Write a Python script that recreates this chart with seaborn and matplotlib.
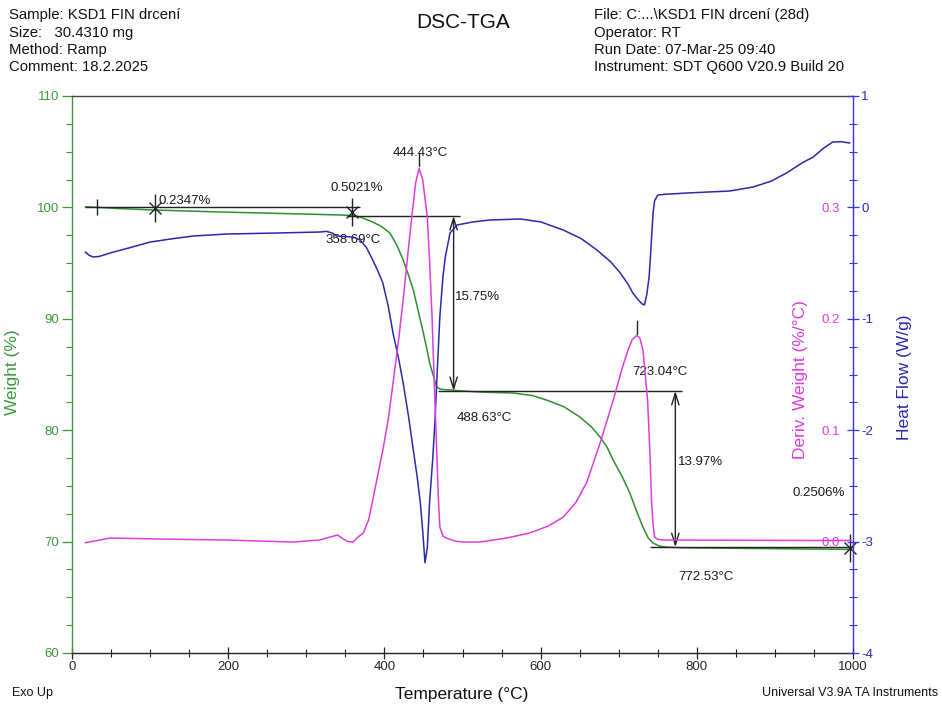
import numpy as np
import pandas as pd
import matplotlib
matplotlib.use('Agg')
import matplotlib.pyplot as plt
import seaborn as sns
from matplotlib.ticker import MultipleLocator, FixedLocator

sns.set_theme(style='white')
plt.rcParams['font.family'] = ['Liberation Sans', 'DejaVu Sans']
plt.rcParams['axes.unicode_minus'] = False

# ---------------- data ----------------
weight_temp = [17, 32, 60, 104, 150, 200, 241, 300, 343, 360, 369, 385, 396, 407, 416, 424, 431, 437,
               443, 449, 454, 458, 463, 467, 471, 477, 484, 500, 522, 545, 565, 590, 608, 630, 650,
               665, 676, 685, 693, 704, 714, 722, 731, 738, 744, 752, 762, 780, 850, 920, 998]
weight_pct = [100.05, 100.0, 99.9, 99.77, 99.67, 99.57, 99.5, 99.4, 99.32, 99.27, 99.14, 98.69, 98.3,
              97.70, 96.6, 95.28, 93.9, 92.59, 90.8, 89.0, 87.4, 86.03, 84.8, 83.88, 83.70, 83.64,
              83.61, 83.52, 83.43, 83.38, 83.34, 83.1, 82.7, 82.1, 81.2, 80.3, 79.4, 78.5, 77.3, 75.9,
              74.4, 72.9, 71.3, 70.3, 69.87, 69.6, 69.5, 69.45, 69.4, 69.35, 69.3]

hf_temp = [17, 22, 27, 35, 49, 75, 100, 130, 155, 198, 262, 317, 326, 333, 339, 350, 360, 369, 377, 385,
           391, 398, 405, 411, 418, 424, 431, 437, 442, 446, 449, 452, 455, 458, 462, 465, 468, 471, 475,
           478, 484, 493, 513, 535, 574, 600, 629, 652, 672, 690, 702, 712, 718, 725, 730, 733, 736, 739,
           741, 744, 746, 750, 760, 787, 842, 872, 895, 915, 935, 949, 962, 974, 985, 996]
hf_wg = [-0.40, -0.43, -0.445, -0.44, -0.409, -0.36, -0.311, -0.28, -0.257, -0.239, -0.230, -0.221,
         -0.215, -0.23, -0.257, -0.262, -0.266, -0.293, -0.36, -0.472, -0.56, -0.679, -0.89, -1.127,
         -1.35, -1.576, -1.88, -2.178, -2.42, -2.653, -2.9, -3.19, -3.05, -2.627, -2.25, -1.88, -1.42,
         -0.98, -0.62, -0.445, -0.23, -0.158, -0.131, -0.113, -0.104, -0.13, -0.203, -0.28, -0.382,
         -0.49, -0.589, -0.69, -0.768, -0.83, -0.867, -0.875, -0.78, -0.62, -0.40, -0.05, 0.06, 0.111,
         0.118, 0.129, 0.147, 0.183, 0.235, 0.309, 0.40, 0.452, 0.53, 0.587, 0.59, 0.578]

dw_temp = [17, 49, 113, 198, 283, 317, 330, 340, 347, 353, 360, 366, 373, 380, 385, 391, 398, 405, 411,
           418, 424, 430, 435, 440, 444.4, 449, 455, 458, 461, 464, 467, 469, 471, 475, 480, 490, 501,
           522, 555, 586, 610, 629, 645, 659, 676, 693, 705, 712, 717, 723, 727, 731, 734, 737, 740,
           742, 744, 746, 750, 757, 779, 850, 950, 998]
dw_pct = [-0.001, 0.0032, 0.0023, 0.0014, -0.0004, 0.0014, 0.004, 0.0059, 0.0025, 0.0, -0.0004, 0.004,
          0.0077, 0.02, 0.037, 0.058, 0.082, 0.11, 0.142, 0.18, 0.217, 0.258, 0.291, 0.322, 0.335,
          0.325, 0.291, 0.25, 0.202, 0.14, 0.082, 0.04, 0.013, 0.005, 0.003, 0.0005, -0.0004, -0.0004,
          0.003, 0.0077, 0.014, 0.022, 0.035, 0.053, 0.088, 0.127, 0.157, 0.172, 0.181, 0.185, 0.183,
          0.172, 0.15, 0.127, 0.08, 0.037, 0.015, 0.0041, 0.002, 0.0014, 0.0014, 0.0012, 0.001, 0.001]

# analysis annotations (temperature, weight)
step_temps = [488.63, 772.53]
step_tops = [99.23, 83.52]
step_bottoms = [83.52, 69.5]
peak_temps = [444.43, 723.04]
peak_derivs = [0.337, 0.186]
cross_temps = [106, 358.69, 996]
cross_weights = [99.95, 99.6, 69.45]

GREEN = '#2f8f2f'
GREEN_T = '#3c9a3c'
MAGENTA = '#dd3ddd'
BLUE = '#2a2aaa'
BLUE_AX = '#3535d0'

df_w = pd.DataFrame({'T': weight_temp, 'W': weight_pct})
df_h = pd.DataFrame({'T': hf_temp, 'H': hf_wg})
df_d = pd.DataFrame({'T': dw_temp, 'D': dw_pct})

fig = plt.figure(figsize=(9.42, 7.07), dpi=100)
W_PX, H_PX = 942, 707
ax = fig.add_axes([72 / W_PX, 1 - 653 / H_PX, (853 - 72) / W_PX, (653 - 96) / H_PX])
ax2 = ax.twinx()
ax3 = ax.twinx()

sns.lineplot(data=df_w, x='T', y='W', ax=ax, color=GREEN, lw=1.1, sort=False, estimator=None)
sns.lineplot(data=df_h, x='T', y='H', ax=ax2, color=BLUE, lw=1.1, sort=False, estimator=None)
sns.lineplot(data=df_d, x='T', y='D', ax=ax3, color=MAGENTA, lw=1.1, sort=False, estimator=None)

ax.set_xlim(0, 1000)
ax.set_ylim(60, 110)
ax2.set_ylim(-4, 1)
ax3.set_ylim(-0.1, 0.4)

# --- main axis styling
ax.set_xlabel('')
ax.set_ylabel('')
ax.xaxis.set_major_locator(MultipleLocator(200))
ax.xaxis.set_minor_locator(MultipleLocator(50))
ax.yaxis.set_major_locator(MultipleLocator(10))
ax.yaxis.set_minor_locator(MultipleLocator(2.5))
ax.tick_params(axis='x', which='major', direction='inout', length=8, width=0.9, color='#222222',
               labelsize=9.5, pad=2, bottom=True)
ax.tick_params(axis='x', which='minor', direction='inout', length=6, width=0.8, color='#222222', bottom=True)
ax.tick_params(axis='y', which='major', direction='out', length=7, width=0.9, color=GREEN_T,
               labelcolor=GREEN_T, labelsize=9.5, pad=2, left=True)
ax.tick_params(axis='y', which='minor', direction='out', length=4, width=0.8, color=GREEN_T, left=True)
ax.spines['left'].set_color(GREEN_T)
ax.spines['bottom'].set_color('#222222')
ax.spines['top'].set_color('#444444')
for a in (ax, ax2, ax3):
    for s in a.spines.values():
        s.set_linewidth(1.0)
ax.spines['right'].set_visible(False)

# --- heat flow axis
ax2.set_ylabel('')
ax2.yaxis.set_major_locator(MultipleLocator(1))
ax2.yaxis.set_minor_locator(MultipleLocator(0.25))
ax2.tick_params(axis='y', which='major', direction='inout', length=8, width=0.9, color=BLUE_AX,
                labelcolor=BLUE, labelsize=9.5, pad=2, right=True)
ax2.tick_params(axis='y', which='minor', direction='inout', length=6, width=0.8, color=BLUE_AX, right=True)
ax2.spines['right'].set_color(BLUE_AX)
for s in ['left', 'top', 'bottom']:
    ax2.spines[s].set_visible(False)

# --- deriv weight axis (labels inside, next to the heat-flow spine)
ax3.yaxis.set_major_locator(FixedLocator([0.0, 0.1, 0.2, 0.3]))
ax3.yaxis.set_major_formatter(matplotlib.ticker.FormatStrFormatter('%.1f'))
ax3.tick_params(axis='y', which='both', length=0, labelcolor=MAGENTA, labelsize=9.5, pad=-9.5,
                right=False, labelright=True)
plt.setp(ax3.get_yticklabels(), ha='right')
for s in ax3.spines.values():
    s.set_visible(False)
ax3.set_ylabel('')

# axis titles
fig.text(462 / W_PX, 1 - 694 / H_PX, 'Temperature (°C)', ha='center', va='center', fontsize=12.5,
         color='#111111')
fig.text(13 / W_PX, 1 - 372 / H_PX, 'Weight (%)', rotation=90, color=GREEN_T,
         fontsize=12.5, ha='center', va='center')
fig.text(800 / W_PX, 1 - 380 / H_PX, 'Deriv. Weight (%/°C)', rotation=90, color=MAGENTA,
         fontsize=12.5, ha='center', va='center')
fig.text(904 / W_PX, 1 - 377 / H_PX, 'Heat Flow (W/g)', rotation=90, color=BLUE,
         fontsize=12.5, ha='center', va='center')

# --- analysis markup
ax.hlines(100.0, 17, 369, color='#222222', lw=1.0)
ax.hlines(step_tops[0], 352, 497, color='#222222', lw=1.0)
ax.hlines(step_bottoms[0], 469, 781, color='#222222', lw=1.0)
ax.hlines(step_bottoms[1], 740, 1000, color='#222222', lw=1.0, clip_on=False)
ax.plot([32], [100.0], marker='|', ms=11, color='#222222', mew=1.0)
for t, top, bot in zip(step_temps, step_tops, step_bottoms):
    ax.annotate('', xy=(t, bot), xytext=(t, top),
                arrowprops=dict(arrowstyle='<->,head_length=0.7,head_width=0.22', color='#222222', lw=1.0,
                                shrinkA=0, shrinkB=0))
for t, w in zip(cross_temps, cross_weights):
    ax.plot([t], [w], marker='|', ms=20, color='#222222', mew=1.0, clip_on=False)
    ax.plot([t], [w], marker='x', ms=8, color='#222222', mew=1.0, clip_on=False)
for t, d in zip(peak_temps, peak_derivs):
    ax3.plot([t, t], [d, d + 0.012], color='#222222', lw=1.0)

lbl = dict(fontsize=9.5, color='#1a1a1a', va='center')
ax.text(111, 100.57, '0.2347%', ha='left', **lbl)
ax.text(364, 101.74, '0.5021%', ha='center', **lbl)
ax.text(360, 97.07, '358.69°C', ha='center', **lbl)
ax.text(446, 104.88, '444.43°C', ha='center', **lbl)
ax.text(490, 91.96, '15.75%', ha='left', **lbl)
ax.text(492, 81.1, '488.63°C', ha='left', **lbl)
ax.text(717, 85.22, '723.04°C', ha='left', **lbl)
ax.text(776, 77.15, '13.97%', ha='left', **lbl)
ax.text(923, 74.36, '0.2506%', ha='left', **lbl)
ax.text(776, 66.82, '772.53°C', ha='left', **lbl)

# --- header / footer
hdr = dict(fontsize=10.7, color='#111111', va='center')
rows_y = [15, 32.5, 50, 67]
for y, s in zip(rows_y, ['Sample: KSD1 FIN drcení', 'Size:   30.4310 mg', 'Method: Ramp', 'Comment: 18.2.2025']):
    fig.text(9 / W_PX, 1 - y / H_PX, s, ha='left', **hdr)
for y, s in zip(rows_y, ['File: C:...\\KSD1 FIN drcení (28d)', 'Operator: RT', 'Run Date: 07-Mar-25 09:40',
                         'Instrument: SDT Q600 V20.9 Build 20']):
    fig.text(594 / W_PX, 1 - y / H_PX, s, ha='left', **hdr)
fig.text(463 / W_PX, 1 - 22 / H_PX, 'DSC-TGA', ha='center', va='center', fontsize=15, color='#111111')
fig.text(12 / W_PX, 1 - 693 / H_PX, 'Exo Up', ha='left', va='center', fontsize=9, color='#111111')
fig.text(938 / W_PX, 1 - 693 / H_PX, 'Universal V3.9A TA Instruments', ha='right', va='center', fontsize=9,
         color='#111111')

fig.savefig('out.png', dpi=100)
